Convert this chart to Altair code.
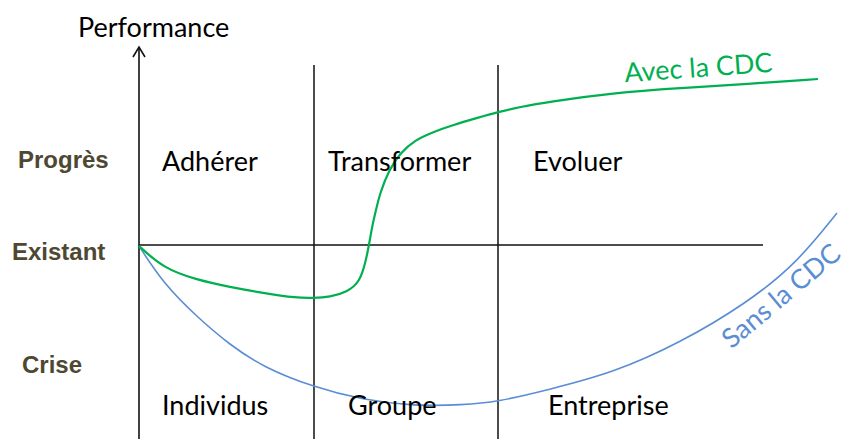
import altair as alt
import pandas as pd

# Coordinates: x = time from the vertical axis, y = performance relative to "Existant"
avec_x = [0, 24, 58, 91, 124, 158, 174, 191, 208, 221, 227, 230, 233, 237, 241, 250, 261, 276, 294, 314, 338, 359, 381, 408, 474, 541, 608, 679]
avec_y = [-1, -23, -35, -42, -48, -53, -53, -52, -47, -37, -15, 0, 18, 35, 52, 75, 92, 105, 113, 120, 127, 133, 138, 143, 152, 157, 161, 166]

sans_x = [0, 24, 58, 91, 124, 174, 224, 274, 324, 358, 408, 474, 541, 608, 658, 698]
sans_y = [-1, -38, -72, -100, -122, -142, -155, -161, -160, -157, -145, -128, -98, -58, -18, 32]

phase_labels = ["Adhérer", "Transformer", "Evoluer"]
phase_x = [23, 189, 394]
level_labels = ["Individus", "Groupe", "Entreprise"]
level_x = [23, 209, 409]
y_labels = ["Progrès", "Existant", "Crise"]
y_label_x = [-121, -127, -117]
y_label_y = [77, -15, -128]
dividers = [175, 359]

X_DOMAIN = [-131, 702]
Y_DOMAIN = [-194, 237]
xs = alt.Scale(domain=X_DOMAIN, nice=False, zero=False)
ys = alt.Scale(domain=Y_DOMAIN, nice=False, zero=False)
X = lambda f: alt.X(f, type="quantitative", scale=xs, axis=None)
Y = lambda f: alt.Y(f, type="quantitative", scale=ys, axis=None)

FONT = "Lato"
FS = 27

# axes / grid lines
vaxis = pd.DataFrame({"x": [0], "y": [198], "y2": [-194]})
vdiv = pd.DataFrame({"x": dividers, "y": [180] * len(dividers), "y2": [-194] * len(dividers)})
hline = pd.DataFrame({"x": [0], "x2": [624], "y": [0]})

axis_rule = alt.Chart(vaxis).mark_rule(color="#111", strokeWidth=1.6).encode(
    x=X("x"), y=Y("y"), y2="y2")
div_rule = alt.Chart(vdiv).mark_rule(color="#111", strokeWidth=1.5).encode(
    x=X("x"), y=Y("y"), y2="y2")
h_rule = alt.Chart(hline).mark_rule(color="#111", strokeWidth=1.5).encode(
    x=X("x"), x2="x2", y=Y("y"))

arrow = alt.Chart(pd.DataFrame({"x": [0], "y": [198]})).mark_point(
    shape="M-0.6,1L0,0L0.6,1", size=400, filled=False, color="#111", strokeWidth=1.6, opacity=1
).encode(x=X("x"), y=Y("y"))

avec = alt.Chart(pd.DataFrame({"x": avec_x, "y": avec_y})).mark_line(
    color="#00b050", strokeWidth=2.2, interpolate="basis").encode(x=X("x"), y=Y("y"))
sans = alt.Chart(pd.DataFrame({"x": sans_x, "y": sans_y})).mark_line(
    color="#5b8dd4", strokeWidth=1.6, interpolate="basis").encode(x=X("x"), y=Y("y"))

perf = alt.Chart(pd.DataFrame({"x": [-61], "y": [208], "t": ["Performance"]})).mark_text(
    font=FONT, fontSize=FS, align="left", baseline="alphabetic", color="#000").encode(
    x=X("x"), y=Y("y"), text="t:N")

phases = alt.Chart(pd.DataFrame({"x": phase_x, "y": [74] * 3, "t": phase_labels})).mark_text(
    font=FONT, fontSize=FS, align="left", baseline="alphabetic", color="#000").encode(
    x=X("x"), y=Y("y"), text="t:N")

levels = alt.Chart(pd.DataFrame({"x": level_x, "y": [-170] * 3, "t": level_labels})).mark_text(
    font=FONT, fontSize=FS, align="left", baseline="alphabetic", color="#000").encode(
    x=X("x"), y=Y("y"), text="t:N")

ylabs = alt.Chart(pd.DataFrame({"x": y_label_x, "y": y_label_y, "t": y_labels})).mark_text(
    font="Liberation Sans", fontSize=24, fontWeight="bold", align="left",
    baseline="alphabetic", color="#4e4832").encode(x=X("x"), y=Y("y"), text="t:N")

avec_lab = alt.Chart(pd.DataFrame({"x": [560], "y": [168], "t": ["Avec la CDC"]})).mark_text(
    font=FONT, fontSize=FS, align="center", baseline="alphabetic", angle=356,
    color="#00b050").encode(x=X("x"), y=Y("y"), text="t:N")

sans_lab = alt.Chart(pd.DataFrame({"x": [648], "y": [-58], "t": ["Sans la CDC"]})).mark_text(
    font=FONT, fontSize=FS, align="center", baseline="alphabetic", angle=320,
    color="#5b8dd4").encode(x=X("x"), y=Y("y"), text="t:N")

chart = alt.layer(
    div_rule, h_rule, axis_rule, arrow, sans, avec,
    perf, phases, levels, ylabs, avec_lab, sans_lab
).properties(
    width=833, height=431, autosize=alt.AutoSizeParams(type="none"), padding=0
).configure_view(stroke=None)

chart.save("out.html", embed_options={"renderer": "svg", "actions": False})
